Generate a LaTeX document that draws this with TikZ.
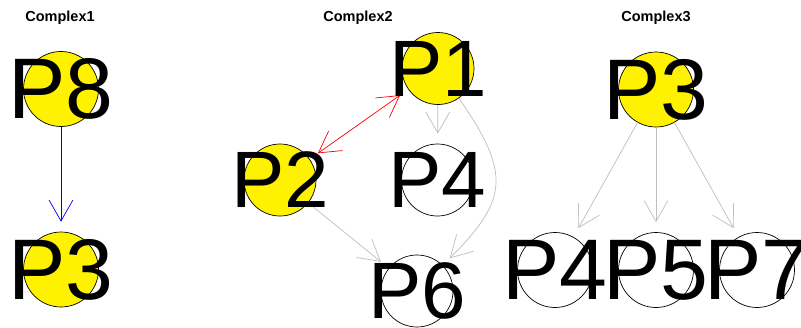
\documentclass[tikz,border=0pt]{standalone}
\usepackage{fontspec}
\setmainfont{Liberation Sans}
\usetikzlibrary{arrows.meta}
\begin{document}
\begin{tikzpicture}[x=1pt,y=1pt,
  vtx/.style={circle,draw=black,line width=0.7pt,inner sep=0pt,minimum size=75pt},
  vtxs/.style={vtx,minimum size=72pt},
  hub/.style={fill=yellow},
  plain/.style={fill=white},
  lbl/.style={inner sep=0pt,font=\fontsize{86}{86}\selectfont},
  lbls/.style={inner sep=0pt,font=\fontsize{80}{80}\selectfont},
  ttl/.style={inner sep=0pt,font=\bfseries\fontsize{14.5}{16}\selectfont},
  tip/.style={-{Straight Barb[length=21pt,width=24pt]}},
  edg/.style={tip,line width=0.7pt,shorten >=10pt},
  gedge/.style={edg,draw={rgb,255:red,190;green,190;blue,190}},
]
\useasboundingbox[fill=white] (0,0) rectangle (801,-327);

% titles
\node[ttl] (t1) at (60,-18) {Complex1};
\node[ttl] (t2) at (358,-18) {Complex2};
\node[ttl] (t3) at (656,-18) {Complex3};

% Complex1
\node[vtx,hub] (a8) at (61,-89) {};
\node[vtx,hub] (a3) at (61,-269.5) {};
\draw[edg,blue] (a8) -- (a3);
\node[lbl] (la8) at (a8) {P8};
\node[lbl] (la3) at (a3) {P3};

% Complex2
\node[vtxs,hub] (b1) at (438,-68.5) {};
\node[vtxs,hub] (b2) at (280,-180) {};
\node[vtxs,plain] (b4) at (437.5,-180) {};
\node[vtxs,plain] (b6) at (417,-291) {};
\draw[line width=0.7pt,red,{Straight Barb[length=21pt,width=24pt]}-{Straight Barb[length=21pt,width=24pt]},shorten <=10pt,shorten >=10pt] (b2) -- (b1);
\draw[gedge] (b1) -- (b4);
\draw[gedge] (b2) -- (b6);
\draw[gedge] (b1) to[out=-55,in=45,looseness=1.4] (b6);
\node[lbls] (lb1) at (b1) {P1};
\node[lbls] (lb2) at (b2) {P2};
\node[lbls] (lb4) at (b4) {P4};
\node[lbls] (lb6) at (b6) {P6};

% Complex3
\node[vtx,hub] (c3) at (656,-89.5) {};
\node[vtx,plain] (c4) at (555,-270) {};
\node[vtx,plain] (c5) at (656,-270) {};
\node[vtx,plain] (c7) at (757,-270) {};
\draw[gedge] (c3) -- (c4);
\draw[gedge] (c3) -- (c5);
\draw[gedge] (c3) -- (c7);
\node[lbl] (lc3) at (c3) {P3};
\node[lbl] (lc4) at (c4) {P4};
\node[lbl] (lc5) at (c5) {P5};
\node[lbl] (lc7) at (c7) {P7};
\end{tikzpicture}
\end{document}
